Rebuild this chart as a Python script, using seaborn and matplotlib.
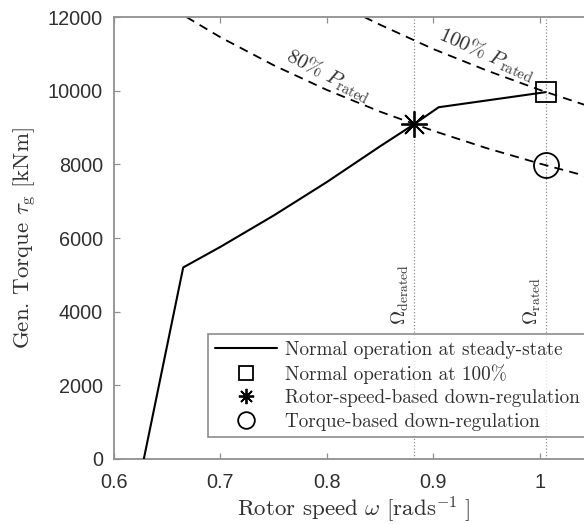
import matplotlib
matplotlib.use("Agg")
import matplotlib.pyplot as plt
from matplotlib.lines import Line2D
import seaborn as sns

# Steady-state generator torque curve (rotor speed in rad/s, torque in kNm)
omega_curve = [0.628, 0.665, 0.70, 0.75, 0.80, 0.85, 0.882, 0.905, 1.0056]
torque_curve = [0, 5200, 5760, 6610, 7520, 8490, 9090, 9550, 9960]

# Constant-power curves (80 % and 100 % of rated power)
omega_p80 = [0.668, 0.70, 0.75, 0.80, 0.85, 0.90, 0.95, 1.00, 1.05]
torque_p80 = [12000, 11450, 10690, 10020, 9430, 8910, 8440, 8020, 7630]
omega_p100 = [0.835, 0.85, 0.90, 0.95, 1.00, 1.05]
torque_p100 = [12000, 11790, 11130, 10550, 10020, 9540]

# Operating points
omega_rated, torque_rated = 1.0056, 9960
omega_derated, torque_derated = 0.882, 9090
omega_tq, torque_tq = 1.0056, 7970

x_ticks = [0.6, 0.7, 0.8, 0.9, 1.0]
x_ticklabels = ["0.6", "0.7", "0.8", "0.9", "1"]
y_ticks = [0, 2000, 4000, 6000, 8000, 10000, 12000]

sns.set_style("ticks")
plt.rcParams["mathtext.fontset"] = "cm"
plt.rcParams["font.family"] = ["Liberation Sans", "DejaVu Sans"]

fig = plt.figure(figsize=(5.84, 5.24), dpi=100)
ax = fig.add_axes([114 / 584, 65 / 524, 479 / 584, 442 / 524])

# vertical reference speeds
for w in (omega_derated, omega_rated):
    ax.plot([w, w], [0, 12000], color="#8c8c8c", lw=0.9, ls=(0, (1, 1.6)), zorder=1)

sns.lineplot(x=omega_p80, y=torque_p80, ax=ax, color="k", lw=1.3,
             linestyle=(0, (5, 3.5)), sort=False, estimator=None, zorder=2)
sns.lineplot(x=omega_p100, y=torque_p100, ax=ax, color="k", lw=1.3,
             linestyle=(0, (5, 3.5)), sort=False, estimator=None, zorder=2)
sns.lineplot(x=omega_curve, y=torque_curve, ax=ax, color="k", lw=1.5,
             sort=False, estimator=None, zorder=3)

ax.plot(omega_rated, torque_rated, marker="s", ms=15, mfc="none", mec="k", mew=1.3, ls="none", zorder=4)
ax.plot(omega_derated, torque_derated, marker=(8, 2, 0), ms=19, mec="k", mew=1.3, ls="none", zorder=4)
ax.plot(omega_tq, torque_tq, marker="o", ms=18, mfc="none", mec="k", mew=1.3, ls="none", zorder=4)

ax.set_xlim(0.6, 1.05)
ax.set_ylim(0, 12000)
ax.set_xticks(x_ticks)
ax.set_xticklabels(x_ticklabels)
ax.set_yticks(y_ticks)
ax.tick_params(direction="in", length=4, width=0.9, colors="#909090",
               labelcolor="#303030", labelsize=14.3, top=True, right=True)
ax.tick_params(axis="x", pad=10)
ax.tick_params(axis="y", pad=8)

for s in ax.spines.values():
    s.set_color("#909090")
    s.set_linewidth(1.3)

ax.set_xlabel(r"Rotor speed $\omega$ $[\mathrm{rads}^{-1}\ ]$", fontsize=16.5,
              family="cmr10", color="#303030", labelpad=2)
ax.set_ylabel(r"Gen. Torque $\tau_{\mathrm{g}}$ [kNm]", fontsize=16.5,
              family="cmr10", color="#303030", labelpad=6)

# power curve labels
ax.text(0.802, 10400, r"$80\%\ P_{\mathrm{rated}}$", rotation=-27, fontsize=15,
        ha="center", va="center", color="#303030")
ax.text(0.950, 11000, r"$100\%\ P_{\mathrm{rated}}$", rotation=-24, fontsize=15,
        ha="center", va="center", color="#303030")

# speed labels
ax.text(omega_derated - 0.003, 3650, r"$\Omega_{\mathrm{derated}}$", rotation=90,
        fontsize=14, ha="right", va="bottom", color="#303030")
ax.text(omega_rated - 0.003, 3650, r"$\Omega_{\mathrm{rated}}$", rotation=90,
        fontsize=14, ha="right", va="bottom", color="#303030")

handles = [
    Line2D([], [], color="k", lw=1.5),
    Line2D([], [], marker="s", ms=10, mfc="none", mec="k", mew=1.3, ls="none"),
    Line2D([], [], marker=(8, 2, 0), ms=11, mec="k", mew=1.3, ls="none"),
    Line2D([], [], marker="o", ms=12, mfc="none", mec="k", mew=1.3, ls="none"),
]
labels = [
    "Normal operation at steady-state",
    "Normal operation at 100%",
    "Rotor-speed-based down-regulation",
    "Torque-based down-regulation",
]
leg = ax.legend(handles, labels, loc="upper left",
                bbox_to_anchor=(208 / 584, 1 - 334 / 524), bbox_transform=fig.transFigure,
                borderaxespad=0, frameon=True, fancybox=False, handlelength=3.25,
                handletextpad=0.4, borderpad=0.35, labelspacing=0.28,
                prop={"family": "cmr10", "size": 13.8})
leg.get_frame().set_edgecolor("#707070")
leg.get_frame().set_linewidth(1.2)
for t in leg.get_texts():
    t.set_color("#303030")

fig.savefig("out.png", dpi=100)
